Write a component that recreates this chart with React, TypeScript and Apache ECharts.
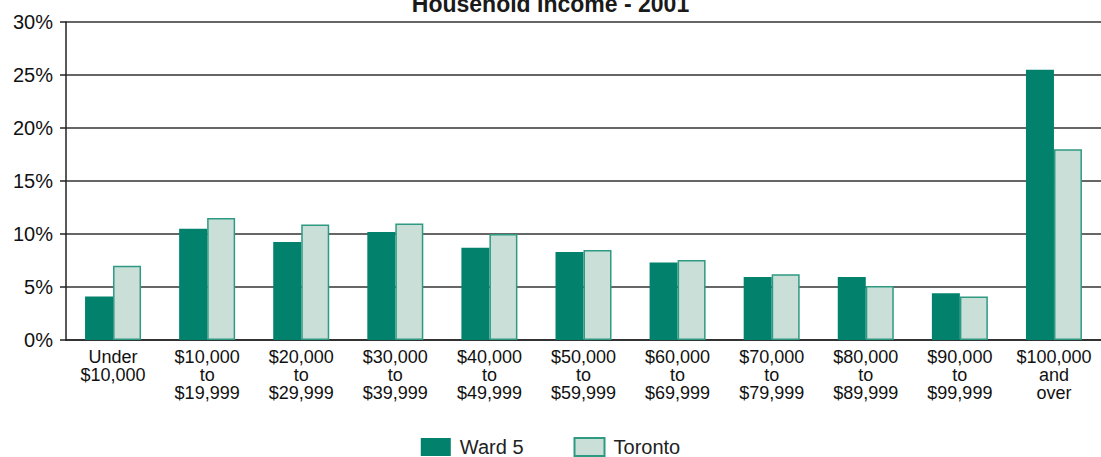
import React, { useEffect, useRef } from "react";
import * as echarts from "echarts";

const categories = [
  "Under\n$10,000",
  "$10,000\nto\n$19,999",
  "$20,000\nto\n$29,999",
  "$30,000\nto\n$39,999",
  "$40,000\nto\n$49,999",
  "$50,000\nto\n$59,999",
  "$60,000\nto\n$69,999",
  "$70,000\nto\n$79,999",
  "$80,000\nto\n$89,999",
  "$90,000\nto\n$99,999",
  "$100,000\nand\nover",
];
const ward5 = [4.1, 10.5, 9.25, 10.2, 8.7, 8.3, 7.3, 5.95, 5.95, 4.4, 25.5];
const toronto = [7.0, 11.5, 10.9, 11.0, 10.0, 8.5, 7.55, 6.2, 5.1, 4.1, 18.0];

const FONT = "Liberation Sans, Arial, sans-serif";

export default function App() {
  const ref = useRef<HTMLDivElement>(null);
  useEffect(() => {
    const chart = echarts.init(ref.current!, null, { renderer: "svg" });
    chart.setOption({
      animation: false,
      backgroundColor: "#ffffff",
      textStyle: { fontFamily: FONT },
      title: {
        text: "Household Income - 2001",
        left: "center",
        top: -13,
        textStyle: { fontSize: 23, fontWeight: "bold", color: "#1a1a1a", fontFamily: FONT },
      },
      legend: {
        top: 437,
        left: "center",
        padding: 0,
        icon: "rect",
        itemWidth: 30,
        itemHeight: 18,
        itemGap: 50,
        textStyle: { fontSize: 20, color: "#222", fontFamily: FONT, padding: [0, 0, 0, 4] },
        data: ["Ward 5", "Toronto"],
      },
      grid: { left: 66, right: 0, top: 22, bottom: 117, containLabel: false },
      xAxis: {
        type: "category",
        data: categories,
        axisLine: { show: true, lineStyle: { color: "#222", width: 1.5 } },
        axisTick: { show: false },
        axisLabel: {
          interval: 0,
          fontSize: 18,
          lineHeight: 18,
          color: "#111",
          margin: 8,
          fontFamily: FONT,
        },
      },
      yAxis: {
        type: "value",
        min: 0,
        max: 30,
        interval: 5,
        axisLine: { show: true, lineStyle: { color: "#222", width: 1.5 } },
        axisTick: { show: true, length: 6, lineStyle: { color: "#222", width: 1.5 } },
        splitLine: { show: true, lineStyle: { color: "#333", width: 1.5 } },
        axisLabel: {
          formatter: "{value}%",
          fontSize: 20,
          color: "#111",
          margin: 13,
          fontFamily: FONT,
        },
      },
      series: [
        {
          name: "Ward 5",
          type: "bar",
          data: ward5,
          barWidth: 28,
          barGap: "0%",
          itemStyle: { color: "#02826C" },
        },
        {
          name: "Toronto",
          type: "bar",
          data: toronto,
          barWidth: 28,
          barGap: "0%",
          itemStyle: { color: "#C9DFD8", borderColor: "#2E9A82", borderWidth: 1.5 },
        },
      ],
    });
    return () => chart.dispose();
  }, []);
  return <div ref={ref} style={{ width: 1101, height: 457, position: "absolute", left: 0, top: 0 }} />;
}
